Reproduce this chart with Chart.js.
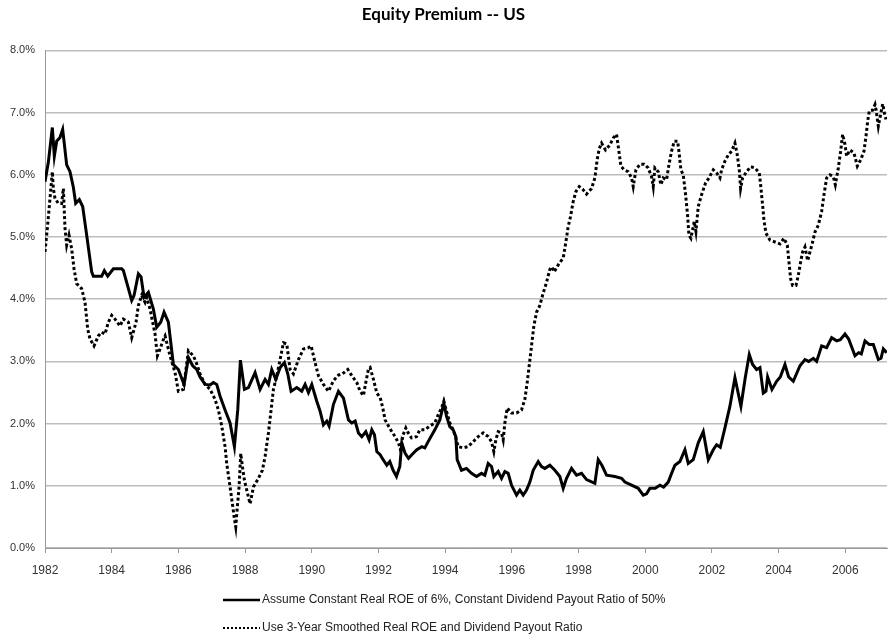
<!DOCTYPE html>
<html>
<head>
<meta charset="utf-8">
<title>Equity Premium -- US</title>
<script src="https://cdn.jsdelivr.net/npm/chart.js@4.4.1/dist/chart.umd.min.js"></script>
<style>
  html, body { margin: 0; padding: 0; background: #fff; }
  #wrap { width: 893px; height: 639px; }
</style>
</head>
<body>
<div id="wrap"><canvas id="premiumChart" width="893" height="639"></canvas></div>
<script>
// Serie 1: ROE real constante 6%, payout 50%
const constantYears = [
  1982.00, 1982.10, 1982.22, 1982.28, 1982.35, 1982.45, 1982.53, 1982.65, 1982.75, 1982.85,
  1982.92, 1983.03, 1983.13, 1983.25, 1983.40, 1983.45, 1983.70, 1983.78, 1983.88, 1984.05,
  1984.30, 1984.35, 1984.60, 1984.67, 1984.80, 1984.88, 1984.97, 1985.10, 1985.25, 1985.35,
  1985.47, 1985.57, 1985.70, 1985.85, 1986.00, 1986.17, 1986.30, 1986.43, 1986.55, 1986.65,
  1986.80, 1986.95, 1987.05, 1987.15, 1987.25, 1987.40, 1987.55, 1987.68, 1987.78, 1987.86,
  1987.98, 1988.10, 1988.30, 1988.45, 1988.60, 1988.70, 1988.80, 1988.92, 1989.05, 1989.18,
  1989.28, 1989.38, 1989.55, 1989.70, 1989.80, 1989.90, 1990.00, 1990.15, 1990.25, 1990.35,
  1990.45, 1990.52, 1990.65, 1990.80, 1990.95, 1991.10, 1991.20, 1991.30, 1991.40, 1991.50,
  1991.62, 1991.72, 1991.80, 1991.88, 1991.95, 1992.05, 1992.14, 1992.25, 1992.34, 1992.44,
  1992.54, 1992.64, 1992.70, 1992.80, 1992.90, 1993.00, 1993.15, 1993.30, 1993.39, 1993.49,
  1993.69, 1993.84, 1993.96, 1994.04, 1994.14, 1994.24, 1994.32, 1994.36, 1994.49, 1994.64,
  1994.79, 1994.94, 1995.09, 1995.19, 1995.29, 1995.39, 1995.46, 1995.59, 1995.69, 1995.79,
  1995.89, 1995.99, 1996.14, 1996.24, 1996.34, 1996.44, 1996.54, 1996.64, 1996.79, 1996.89,
  1996.99, 1997.14, 1997.29, 1997.44, 1997.54, 1997.64, 1997.79, 1997.94, 1998.09, 1998.24,
  1998.49, 1998.59, 1998.70, 1998.84, 1999.09, 1999.29, 1999.39, 1999.59, 1999.79, 1999.94,
  2000.04, 2000.14, 2000.30, 2000.44, 2000.55, 2000.69, 2000.79, 2000.89, 2001.04, 2001.19,
  2001.29, 2001.44, 2001.59, 2001.74, 2001.89, 2002.04, 2002.14, 2002.25, 2002.39, 2002.54,
  2002.69, 2002.87, 2003.00, 2003.12, 2003.22, 2003.34, 2003.44, 2003.54, 2003.62, 2003.67,
  2003.80, 2003.94, 2004.05, 2004.19, 2004.30, 2004.44, 2004.64, 2004.79, 2004.90, 2005.04,
  2005.14, 2005.29, 2005.44, 2005.59, 2005.74, 2005.85, 2005.99, 2006.10, 2006.29, 2006.40,
  2006.48, 2006.59, 2006.72, 2006.84, 2006.99, 2007.07, 2007.14, 2007.24
];
const constantValues = [
  5.89, 6.20, 6.76, 6.30, 6.54, 6.60, 6.73, 6.16, 6.05, 5.80,
  5.54, 5.60, 5.49, 5.03, 4.44, 4.37, 4.37, 4.46, 4.37, 4.49,
  4.49, 4.46, 3.98, 4.06, 4.41, 4.36, 4.03, 4.11, 3.84, 3.55,
  3.63, 3.79, 3.63, 2.95, 2.87, 2.63, 3.06, 2.93, 2.87, 2.75,
  2.63, 2.62, 2.66, 2.63, 2.44, 2.22, 2.01, 1.63, 2.22, 3.02,
  2.55, 2.58, 2.82, 2.55, 2.71, 2.63, 2.87, 2.71, 2.90, 2.98,
  2.80, 2.52, 2.58, 2.52, 2.63, 2.50, 2.63, 2.36, 2.20, 1.98,
  2.04, 1.96, 2.31, 2.52, 2.41, 2.06, 2.01, 2.04, 1.85, 1.79,
  1.87, 1.74, 1.90, 1.82, 1.55, 1.50, 1.42, 1.33, 1.39, 1.25,
  1.15, 1.31, 1.69, 1.52, 1.44, 1.50, 1.58, 1.63, 1.61, 1.71,
  1.90, 2.06, 2.33, 2.12, 1.95, 1.90, 1.79, 1.42, 1.25, 1.28,
  1.20, 1.15, 1.20, 1.17, 1.36, 1.31, 1.15, 1.23, 1.12, 1.23,
  1.20, 1.01, 0.85, 0.93, 0.85, 0.93, 1.06, 1.25, 1.39, 1.31,
  1.28, 1.33, 1.25, 1.15, 0.96, 1.12, 1.28, 1.17, 1.20, 1.10,
  1.04, 1.42, 1.33, 1.17, 1.15, 1.12, 1.06, 1.01, 0.96, 0.85,
  0.87, 0.96, 0.96, 1.01, 0.98, 1.06, 1.20, 1.33, 1.39, 1.58,
  1.36, 1.42, 1.69, 1.87, 1.42, 1.58, 1.66, 1.62, 1.93, 2.28,
  2.74, 2.28, 2.74, 3.11, 2.95, 2.87, 2.90, 2.49, 2.52, 2.75,
  2.55, 2.68, 2.75, 2.95, 2.75, 2.68, 2.93, 3.03, 3.00, 3.05,
  3.00, 3.25, 3.22, 3.38, 3.33, 3.35, 3.44, 3.36, 3.09, 3.14,
  3.12, 3.33, 3.27, 3.27, 3.03, 3.05, 3.20, 3.14
];

// Serie 2: ROE y payout suavizados a 3 años
const smoothedYears = [
  1982.00, 1982.07, 1982.15, 1982.22, 1982.25, 1982.30, 1982.40, 1982.50, 1982.55, 1982.60,
  1982.65, 1982.72, 1982.80, 1982.87, 1982.95, 1983.10, 1983.20, 1983.28, 1983.35, 1983.47,
  1983.60, 1983.70, 1983.80, 1983.90, 1984.00, 1984.10, 1984.25, 1984.35, 1984.50, 1984.60,
  1984.73, 1984.80, 1984.90, 1985.00, 1985.05, 1985.15, 1985.30, 1985.37, 1985.45, 1985.57,
  1985.60, 1985.75, 1985.90, 1986.00, 1986.15, 1986.20, 1986.30, 1986.45, 1986.55, 1986.65,
  1986.80, 1986.95, 1987.10, 1987.20, 1987.30, 1987.40, 1987.45, 1987.55, 1987.62, 1987.68,
  1987.72, 1987.76, 1987.82, 1987.87, 1987.92, 1987.98, 1988.05, 1988.15, 1988.25, 1988.40,
  1988.52, 1988.60, 1988.70, 1988.78, 1988.85, 1988.95, 1989.05, 1989.15, 1989.25, 1989.35,
  1989.45, 1989.60, 1989.75, 1989.90, 1989.98, 1990.10, 1990.20, 1990.35, 1990.50, 1990.65,
  1990.80, 1990.92, 1991.08, 1991.20, 1991.35, 1991.45, 1991.55, 1991.62, 1991.70, 1991.75,
  1991.85, 1991.95, 1992.05, 1992.13, 1992.20, 1992.30, 1992.40, 1992.50, 1992.60, 1992.66,
  1992.74, 1992.82, 1992.89, 1992.99, 1993.14, 1993.24, 1993.39, 1993.54, 1993.69, 1993.79,
  1993.89, 1993.96, 1994.04, 1994.14, 1994.24, 1994.32, 1994.39, 1994.54, 1994.69, 1994.84,
  1994.99, 1995.14, 1995.29, 1995.39, 1995.46, 1995.52, 1995.59, 1995.69, 1995.74, 1995.79,
  1995.86, 1995.99, 1996.14, 1996.29, 1996.39, 1996.46, 1996.52, 1996.59, 1996.66, 1996.74,
  1996.84, 1996.94, 1997.04, 1997.14, 1997.20, 1997.27, 1997.41, 1997.54, 1997.62, 1997.69,
  1997.76, 1997.84, 1997.92, 1998.02, 1998.12, 1998.24, 1998.39, 1998.49, 1998.56, 1998.62,
  1998.69, 1998.81, 1998.94, 1999.04, 1999.14, 1999.21, 1999.27, 1999.37, 1999.49, 1999.59,
  1999.64, 1999.72, 1999.84, 1999.97, 2000.09, 2000.19, 2000.24, 2000.29, 2000.39, 2000.47,
  2000.54, 2000.64, 2000.71, 2000.79, 2000.87, 2000.97, 2001.01, 2001.07, 2001.14, 2001.21,
  2001.27, 2001.31, 2001.37, 2001.47, 2001.52, 2001.59, 2001.69, 2001.81, 2001.91, 2002.04,
  2002.14, 2002.24, 2002.29, 2002.39, 2002.49, 2002.59, 2002.69, 2002.76, 2002.82, 2002.86,
  2002.92, 2003.04, 2003.16, 2003.29, 2003.42, 2003.46, 2003.52, 2003.56, 2003.62, 2003.74,
  2003.89, 2004.04, 2004.16, 2004.26, 2004.31, 2004.36, 2004.42, 2004.52, 2004.59, 2004.66,
  2004.72, 2004.79, 2004.87, 2004.94, 2005.02, 2005.09, 2005.19, 2005.29, 2005.36, 2005.44,
  2005.54, 2005.64, 2005.70, 2005.79, 2005.86, 2005.92, 2005.99, 2006.04, 2006.14, 2006.26,
  2006.36, 2006.46, 2006.56, 2006.62, 2006.67, 2006.72, 2006.82, 2006.89, 2006.92, 2006.99,
  2007.04, 2007.12, 2007.17, 2007.22
];
const smoothedValues = [
  4.76, 5.14, 5.62, 6.05, 5.78, 5.62, 5.54, 5.54, 5.78, 5.14,
  4.87, 5.03, 4.81, 4.49, 4.25, 4.17, 3.95, 3.52, 3.36, 3.25,
  3.41, 3.47, 3.44, 3.63, 3.74, 3.68, 3.57, 3.68, 3.63, 3.38,
  3.63, 3.90, 4.06, 3.95, 4.03, 3.84, 3.44, 3.09, 3.20, 3.38,
  3.41, 3.09, 2.82, 2.52, 2.55, 2.76, 3.17, 3.09, 2.96, 2.80,
  2.63, 2.55, 2.39, 2.22, 1.96, 1.63, 1.36, 0.98, 0.71, 0.47,
  0.34, 0.61, 0.98, 1.52, 1.31, 1.09, 0.93, 0.71, 0.98, 1.12,
  1.25, 1.47, 1.85, 2.22, 2.55, 2.77, 3.03, 3.30, 3.28, 2.87,
  2.80, 3.03, 3.20, 3.22, 3.25, 2.98, 2.77, 2.63, 2.52, 2.69,
  2.78, 2.80, 2.87, 2.77, 2.66, 2.52, 2.45, 2.66, 2.88, 2.90,
  2.71, 2.49, 2.42, 2.25, 2.06, 1.96, 1.87, 1.79, 1.69, 1.58,
  1.82, 1.93, 1.85, 1.77, 1.79, 1.90, 1.90, 1.96, 2.01, 2.14,
  2.25, 2.36, 2.20, 2.01, 1.90, 1.77, 1.63, 1.61, 1.63, 1.71,
  1.79, 1.85, 1.79, 1.71, 1.55, 1.74, 1.87, 1.85, 1.74, 2.01,
  2.25, 2.17, 2.17, 2.22, 2.39, 2.66, 2.93, 3.25, 3.57, 3.79,
  3.90, 4.10, 4.27, 4.48, 4.52, 4.44, 4.57, 4.66, 4.92, 5.17,
  5.33, 5.57, 5.73, 5.81, 5.77, 5.69, 5.78, 5.95, 6.25, 6.42,
  6.51, 6.40, 6.48, 6.59, 6.65, 6.38, 6.14, 6.08, 6.05, 5.95,
  5.81, 6.08, 6.17, 6.17, 6.11, 5.97, 5.81, 6.11, 6.05, 5.84,
  5.95, 5.92, 6.16, 6.38, 6.54, 6.54, 6.38, 6.08, 6.00, 5.68,
  5.35, 5.03, 4.98, 5.25, 5.09, 5.49, 5.68, 5.87, 5.95, 6.08,
  6.03, 5.95, 6.08, 6.22, 6.32, 6.38, 6.51, 6.32, 6.08, 5.78,
  5.95, 6.05, 6.13, 6.11, 6.03, 5.84, 5.51, 5.27, 5.06, 4.95,
  4.92, 4.89, 4.98, 4.87, 4.60, 4.33, 4.22, 4.22, 4.38, 4.60,
  4.76, 4.84, 4.62, 4.76, 4.92, 5.08, 5.19, 5.41, 5.68, 5.95,
  6.00, 5.97, 5.84, 6.11, 6.38, 6.65, 6.49, 6.30, 6.40, 6.35,
  6.14, 6.24, 6.38, 6.62, 6.86, 7.03, 7.04, 7.13, 7.05, 6.78,
  6.92, 7.14, 7.00, 6.89
];

const seriesLabels = [
  "Assume Constant Real ROE of 6%, Constant Dividend Payout Ratio of 50%",
  "Use 3-Year Smoothed Real ROE and Dividend Payout Ratio"
];
const xTickYears = [1982, 1984, 1986, 1988, 1990, 1992, 1994, 1996, 1998, 2000, 2002, 2004, 2006];
const yTickValues = [0, 1, 2, 3, 4, 5, 6, 7, 8];

const toPoints = (xs, ys) => xs.map((x, i) => ({ x: x, y: ys[i] }));

// Leyenda en dos filas, alineada a la izquierda
const stackedLegend = {
  id: "stackedLegend",
  afterDraw(chart) {
    const ctx = chart.ctx;
    const top = chart.chartArea.bottom + 52;
    ctx.save();
    ctx.font = '12px "Liberation Sans", Arial, sans-serif';
    ctx.textBaseline = "middle";
    ctx.fillStyle = "#222";
    chart.data.datasets.forEach((ds, i) => {
      const y = top + i * 28;
      ctx.beginPath();
      ctx.setLineDash(i === 0 ? [] : [2, 2]);
      ctx.lineWidth = i === 0 ? 2.5 : 2;
      ctx.strokeStyle = "#000";
      ctx.moveTo(223, y);
      ctx.lineTo(260, y);
      ctx.stroke();
      ctx.fillText(ds.label, 262, y);
    });
    ctx.restore();
  }
};

new Chart(document.getElementById("premiumChart"), {
  type: "line",
  data: {
    datasets: [
      {
        label: seriesLabels[0],
        data: toPoints(constantYears, constantValues),
        borderColor: "#000",
        borderWidth: 3,
        pointRadius: 0,
        tension: 0
      },
      {
        label: seriesLabels[1],
        data: toPoints(smoothedYears, smoothedValues),
        borderColor: "#000",
        borderWidth: 3,
        borderDash: [3, 2.5],
        pointRadius: 0,
        tension: 0
      }
    ]
  },
  options: {
    responsive: false,
    animation: false,
    layout: { padding: { left: 0, right: 6, top: 0, bottom: 0 } },
    plugins: {
      legend: { display: false },
      tooltip: { enabled: false },
      title: {
        display: true,
        text: "Equity Premium -- US",
        color: "#000",
        font: { family: "Lato, 'Liberation Sans', Arial, sans-serif", size: 17, weight: "bold" },
        padding: { top: 4, bottom: 26 }
      }
    },
    scales: {
      x: {
        type: "linear",
        min: 1982,
        max: 2007.25,
        afterBuildTicks: (scale) => { scale.ticks = xTickYears.map(v => ({ value: v })); },
        afterFit: (scale) => { scale.height = 91; },
        grid: { drawOnChartArea: false, drawTicks: true, tickLength: 5, color: "#999" },
        border: { display: true, color: "#999", width: 1 },
        ticks: {
          padding: 10,
          color: "#333",
          font: { family: "'Liberation Sans', Arial, sans-serif", size: 12 },
          callback: (v) => String(v)
        }
      },
      y: {
        min: 0,
        max: 8,
        afterBuildTicks: (scale) => { scale.ticks = yTickValues.map(v => ({ value: v })); },
        afterFit: (scale) => { scale.width = 45; },
        grid: { drawTicks: false, color: "#bdbdbd", lineWidth: 1.5 },
        border: { display: true, color: "#999", width: 1 },
        ticks: {
          padding: 10,
          color: "#333",
          font: { family: "'Liberation Sans', Arial, sans-serif", size: 11 },
          callback: (v) => v.toFixed(1) + "%"
        }
      }
    }
  },
  plugins: [stackedLegend]
});
</script>
</body>
</html>
